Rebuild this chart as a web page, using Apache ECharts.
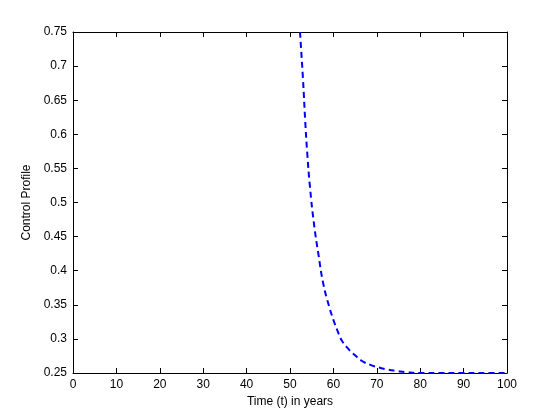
<!DOCTYPE html>
<html>
<head>
<meta charset="utf-8">
<script src="https://cdn.jsdelivr.net/npm/echarts@6/dist/echarts.min.js"></script>
<style>
  html, body { margin: 0; padding: 0; background: #fff; }
  #chart { width: 560px; height: 420px; }
</style>
</head>
<body>
<div id="chart"></div>
<script>
// values
const timeYears = [52.3, 53, 53.5, 54, 54.6, 55.5, 56.5, 57.7, 59, 60, 61, 62, 63.5, 65, 66.5, 68.5, 70.5, 72.5, 74.5, 77, 80, 85, 90, 95, 100]
const controlValues = [0.75, 0.68, 0.62, 0.57, 0.523, 0.47, 0.426, 0.38, 0.348, 0.328, 0.311, 0.297, 0.285, 0.276, 0.268, 0.262, 0.258, 0.255, 0.253, 0.251, 0.25, 0.25, 0.25, 0.25, 0.25]
const xTicks = [0, 10, 20, 30, 40, 50, 60, 70, 80, 90, 100]
const yTicks = [0.25, 0.3, 0.35, 0.4, 0.45, 0.5, 0.55, 0.6, 0.65, 0.7, 0.75]

const font = "Liberation Sans, Arial, sans-serif"
const chart = echarts.init(document.getElementById("chart"), null, { renderer: "canvas" })

// box-style axes: ticks point inward, top/right mirrors without labels
const lineStyle = { color: "#000", width: 1 }
const tickIn = { show: true, inside: true, length: 5, lineStyle: lineStyle }

const option = {
  animation: false,
  backgroundColor: "#fff",
  grid: { left: 73, right: 53, top: 32, bottom: 47, containLabel: false },
  xAxis: [
    {
      type: "value",
      min: xTicks[0],
      max: xTicks[xTicks.length - 1],
      interval: 10,
      name: "Time (t) in years",
      nameLocation: "middle",
      nameGap: 23,
      nameTextStyle: { color: "#000", fontFamily: font, fontSize: 12 },
      axisLine: { show: true, onZero: false, lineStyle: lineStyle },
      axisTick: tickIn,
      axisLabel: { color: "#000", fontFamily: font, fontSize: 12, margin: 6 },
      splitLine: { show: false }
    },
    {
      type: "value",
      position: "top",
      min: xTicks[0],
      max: xTicks[xTicks.length - 1],
      interval: 10,
      axisLine: { show: true, onZero: false, lineStyle: lineStyle },
      axisTick: tickIn,
      axisLabel: { show: false },
      splitLine: { show: false }
    }
  ],
  yAxis: [
    {
      type: "value",
      min: yTicks[0],
      max: yTicks[yTicks.length - 1],
      interval: 0.05,
      name: "Control Profile",
      nameLocation: "middle",
      nameGap: 37,
      nameRotate: 90,
      nameTextStyle: { color: "#000", fontFamily: font, fontSize: 12 },
      axisLine: { show: true, onZero: false, lineStyle: lineStyle },
      axisTick: tickIn,
      axisLabel: {
        color: "#000", fontFamily: font, fontSize: 12, margin: 6,
        formatter: (v) => String(parseFloat(v.toFixed(2)))
      },
      splitLine: { show: false }
    },
    {
      type: "value",
      position: "right",
      min: yTicks[0],
      max: yTicks[yTicks.length - 1],
      interval: 0.05,
      axisLine: { show: true, onZero: false, lineStyle: lineStyle },
      axisTick: tickIn,
      axisLabel: { show: false },
      splitLine: { show: false }
    }
  ],
  series: [
    {
      type: "line",
      data: timeYears.map((t, i) => [t, controlValues[i]]),
      showSymbol: false,
      smooth: true,
      clip: true,
      lineStyle: { color: "#0000ff", width: 2, type: [6, 4] }
    }
  ]
}
chart.setOption(option)
</script>
</body>
</html>
